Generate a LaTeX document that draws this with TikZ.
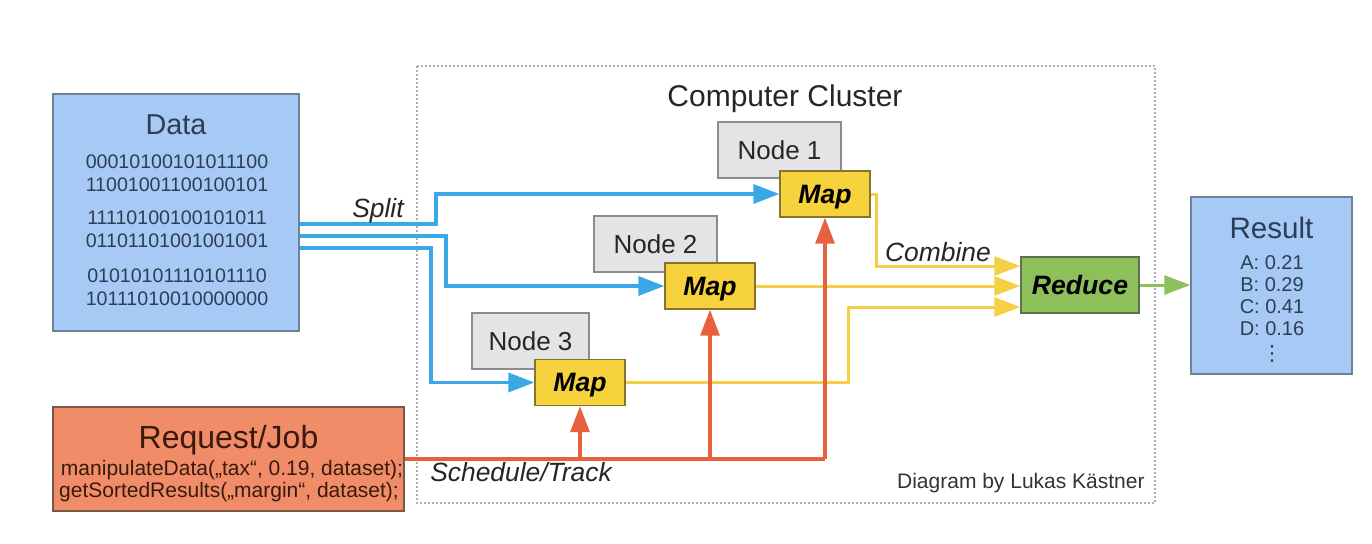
\documentclass[tikz,border=0pt]{standalone}
\usepackage{fontspec}
\setmainfont{Liberation Sans}
\newfontfamily\dejavu{DejaVu Sans}
\usetikzlibrary{arrows.meta}
\definecolor{boxblue}{HTML}{A6CAF5}
\definecolor{boxblueline}{HTML}{6F8198}
\definecolor{reqfill}{HTML}{F08D68}
\definecolor{reqline}{HTML}{7A5646}
\definecolor{nodegray}{HTML}{E4E4E6}
\definecolor{nodegrayline}{HTML}{8C8C8C}
\definecolor{mapfill}{HTML}{F6D23C}
\definecolor{mapline}{HTML}{857430}
\definecolor{redfill}{HTML}{8DBF5B}
\definecolor{redline}{HTML}{5E7050}
\definecolor{arrblue}{HTML}{3AA7E6}
\definecolor{arryellow}{HTML}{F5D044}
\definecolor{arrred}{HTML}{E8613E}
\definecolor{arrgreen}{HTML}{8EC05C}
\definecolor{datatext}{HTML}{2C3E54}
\definecolor{reqtext}{HTML}{3A1A0E}
\definecolor{clusterline}{HTML}{B0B0B0}
\newcommand\fsz[1]{\fontsize{#1}{#1}\selectfont}
\tikzset{
  bigbox/.style={draw=boxblueline, fill=boxblue, line width=0.7pt, inner sep=0pt},
  reqbox/.style={draw=reqline, fill=reqfill, line width=0.7pt, inner sep=0pt},
  graybox/.style={draw=nodegrayline, fill=nodegray, line width=0.7pt, inner sep=0pt,
    minimum width=61.5pt, minimum height=28pt, font=\fsz{13}, text=black!85, text depth=0pt},
  mapbox/.style={draw=mapline, fill=mapfill, line width=0.7pt, inner sep=0pt,
    minimum width=45pt, minimum height=23pt, font=\fsz{13.3}\bfseries\itshape, text depth=0pt},
  reducebox/.style={draw=redline, fill=redfill, line width=0.7pt, inner sep=0pt,
    minimum width=59pt, minimum height=28pt, font=\fsz{13.3}\bfseries\itshape, text depth=0pt},
  tip/.style={-{Triangle[length=13pt,width=9.5pt]}},
  bluearrow/.style={tip, draw=arrblue, line width=1.8pt, arrblue},
  yellowarrow/.style={tip, draw=arryellow, line width=1.5pt, arryellow},
  redarrow/.style={tip, draw=arrred, line width=1.6pt, arrred},
  redconn/.style={draw=arrred, line width=1.6pt},
  greenarrow/.style={tip, draw=arrgreen, line width=1.5pt, arrgreen},
  txt/.style={inner sep=0pt, text depth=0pt},
  lbl/.style={txt, font=\fsz{13.2}\itshape, text=black!85},
  datatxt/.style={txt, font=\fsz{9.8}, text=datatext},
  reqtxt/.style={txt, font=\fsz{10.5}, text=reqtext},
  restxt/.style={txt, font=\fsz{10}, text=datatext},
}
\begin{document}
\begin{tikzpicture}[x=0.5pt, y=-0.5pt]
\useasboundingbox (0,0) rectangle (1372,543);
\fill[white] (0,0) rectangle (1372,543);

% cluster frame
\draw[clusterline, line width=0.8pt, dash pattern=on 1pt off 1pt] (417,66) rectangle (1155,503);
\node[txt, font=\fsz{15}, text=black!85] (cctitle) at (785,96) {Computer Cluster};
\node[txt, font=\fsz{10.5}, text=black!80, anchor=east] (credit) at (1145,481) {Diagram by Lukas Kästner};

% data box
\node[bigbox, minimum width=123pt, minimum height=118.5pt] (data) at (176,212.5) {};
\node[txt, font=\fsz{14.4}, text=datatext] (datatitle) at (176,125) {Data};
\node[datatxt] (d1) at (177,162) {00010100101011100};
\node[datatxt] (d2) at (177,185) {11001001100100101};
\node[datatxt] (d3) at (177,218) {11110100100101011};
\node[datatxt] (d4) at (177,241) {01101101001001001};
\node[datatxt] (d5) at (177,276) {01010101110101110};
\node[datatxt] (d6) at (177,299) {10111010010000000};

% request box
\node[reqbox, minimum width=175.5pt, minimum height=52pt] (req) at (228.5,459) {};
\node[txt, font=\fsz{16}, text=reqtext] (reqtitle) at (228.5,437) {Request/Job};
\node[reqtxt] (r1) at (232,468) {manipulateData(„tax“, 0.19, dataset);};
\node[reqtxt] (r2) at (229,490) {getSortedResults(„margin“, dataset);};

% result box
\node[bigbox, minimum width=80.5pt, minimum height=88.5pt] (result) at (1271.5,285.5) {};
\node[txt, font=\fsz{14.8}, text=datatext] (restitle) at (1271.5,228) {Result};
\node[restxt] (a1) at (1272,263) {A: 0.21};
\node[restxt] (a2) at (1272,285) {B: 0.29};
\node[restxt] (a3) at (1272,307) {C: 0.41};
\node[restxt] (a4) at (1272,329) {D: 0.16};
\node[restxt, font=\dejavu\fsz{10.5}] (a5) at (1272,353) {⋮};

% cluster nodes
\node[graybox] (n1) at (779.5,150) {Node 1};
\node[graybox] (n2) at (655.5,244) {Node 2};
\node[graybox, minimum width=58.5pt] (n3) at (530.5,341) {Node 3};
\node[mapbox] (map1) at (825,194) {Map};
\node[mapbox] (map2) at (710,286) {Map};
\node[mapbox] (map3) at (580,382.5) {Map};
\node[reducebox] (reduce) at (1080,285) {Reduce};

% split arrows
\draw[bluearrow] (data.east |- 0,224) -- (436,224) -- (436,194) -- (map1.west);
\draw[bluearrow] (data.east |- 0,236) -- (446,236) -- (446,286) -- (map2.west);
\draw[bluearrow] (data.east |- 0,248) -- (431,248) -- (431,382.5) -- (map3.west);
\node[lbl] (split) at (378,208) {Split};

% combine arrows
\draw[yellowarrow] (map1.east) -- (876,194) -- (876,266) -- (reduce.west |- 0,266);
\draw[yellowarrow] (map2.east) -- (reduce.west |- 0,286);
\draw[yellowarrow] (map3.east) -- (848,382.5) -- (848,307) -- (reduce.west |- 0,307);
\node[lbl] (combine) at (938,252) {Combine};

% reduce to result
\draw[greenarrow] (reduce.east) -- (result.west |- reduce.east);

% schedule / track
\draw[redconn] (req.east) -- (map1.south |- req.east);
\draw[redarrow] (map1.south |- req.east) -- (map1.south);
\draw[redarrow] (map2.south |- req.east) -- (map2.south);
\draw[redarrow] (map3.south |- req.east) -- (map3.south);
\node[lbl] (sched) at (521,472) {Schedule/Track};
\end{tikzpicture}
\end{document}
